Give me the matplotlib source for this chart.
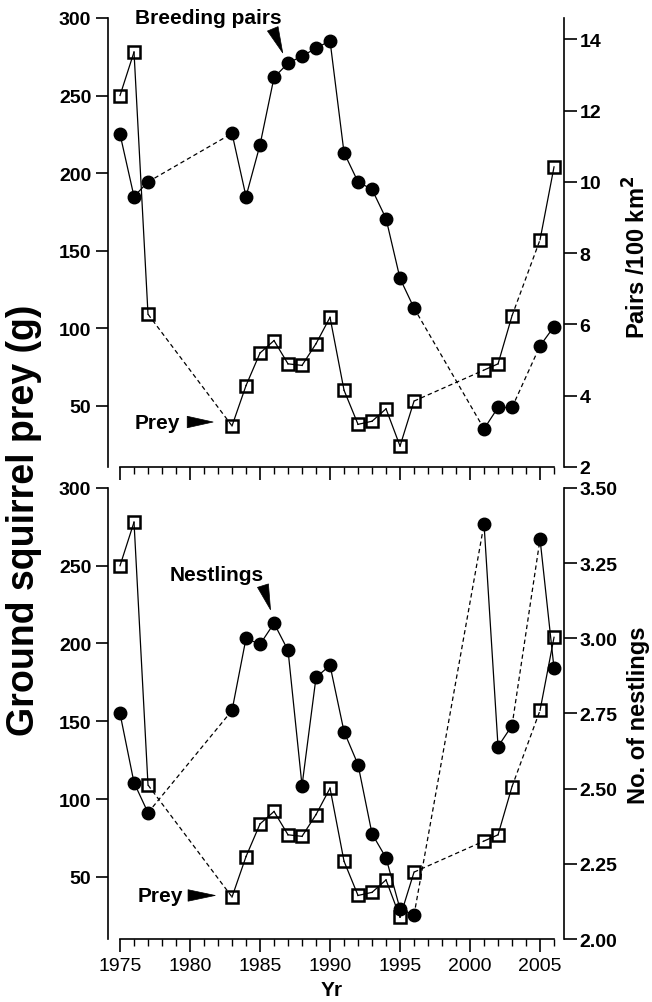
import matplotlib.pyplot as plt
from matplotlib.ticker import MultipleLocator, FormatStrFormatter

plt.rcParams["font.family"] = ["Liberation Sans", "DejaVu Sans"]

# -----------------------------
# Data
# -----------------------------
years = [1975, 1976, 1977, 1983, 1984, 1985, 1986, 1987, 1988, 1989, 1990,
         1991, 1992, 1993, 1994, 1995, 1996, 2001, 2002, 2003, 2005, 2006]

prey_g = [250, 278, 109, 37, 63, 84, 92, 77, 76, 90, 107,
          60, 38, 40, 48, 24, 53, 73, 77, 108, 157, 204]

pairs_per_100km2 = [11.34, 9.59, 10.0, 11.36, 9.59, 11.04, 12.93, 13.33, 13.53, 13.75, 13.96,
                    10.82, 10.0, 9.79, 8.97, 7.29, 6.46, 3.07, 3.67, 3.67, 5.40, 5.94]

nestlings = [2.75, 2.52, 2.42, 2.76, 3.00, 2.98, 3.05, 2.96, 2.51, 2.87, 2.91,
             2.69, 2.58, 2.35, 2.27, 2.10, 2.08, 3.38, 2.64, 2.71, 3.33, 2.90]

prey_ticks = [50, 100, 150, 200, 250, 300]
pairs_ticks = [2, 4, 6, 8, 10, 12, 14]
nestling_ticks = [2.00, 2.25, 2.50, 2.75, 3.00, 3.25, 3.50]

FS_TICK = 14
FS_NOTE = 15
LW = 0.9
DASH = (0, (3.5, 2.5))


def connect(ax, xs, ys):
    # solid line between consecutive years, dashed across missing years
    for i in range(len(xs) - 1):
        ls = "-" if xs[i + 1] - xs[i] == 1 else DASH
        ax.plot(xs[i:i + 2], ys[i:i + 2], color="black", lw=LW, linestyle=ls, zorder=2)


def style_panel(ax, ax2, ylim_left, ylim_right, right_ticks, show_xlabels):
    ax.set_xlim(1974.14, 2006.71)
    ax.set_ylim(*ylim_left)
    ax2.set_ylim(*ylim_right)

    for s in ["top", "right"]:
        ax.spines[s].set_visible(False)
    for s in ["top", "bottom", "left"]:
        ax2.spines[s].set_visible(False)
    ax.spines["bottom"].set_bounds(1975, 2006)
    for sp in [ax.spines["left"], ax.spines["bottom"], ax2.spines["right"]]:
        sp.set_linewidth(1.2)

    ax.set_yticks(prey_ticks)
    ax2.set_yticks(right_ticks)
    ax.xaxis.set_major_locator(MultipleLocator(5))
    ax.xaxis.set_minor_locator(MultipleLocator(1))

    ax.tick_params(axis="y", direction="out", length=9, width=1.2, pad=3, labelsize=FS_TICK)
    ax2.tick_params(axis="y", direction="out", length=9, width=1.2, pad=2, labelsize=FS_TICK)
    ax.tick_params(axis="x", which="major", direction="out", length=9, width=1.2,
                   pad=4, labelsize=FS_TICK, labelbottom=show_xlabels)
    ax.tick_params(axis="x", which="minor", direction="out", length=5, width=1.0)
    for lab in ax.get_yticklabels() + ax2.get_yticklabels():
        lab.set_fontweight("bold")


def draw_series(ax, ax2, right_values):
    connect(ax, years, prey_g)
    ax.plot(years, prey_g, linestyle="none", marker="s", ms=8, mfc="none",
            mec="black", mew=1.8, zorder=3)
    connect(ax2, years, right_values)
    ax2.plot(years, right_values, linestyle="none", marker="o", ms=9,
             color="black", zorder=3)


def pointer(ax, tail, head, width):
    ax.annotate("", xy=head, xytext=tail,
                arrowprops=dict(arrowstyle="wedge,tail_width=%s" % width, fc="black",
                                ec="black", lw=0.5, shrinkA=0, shrinkB=0,
                                mutation_scale=15),
                annotation_clip=False)


fig = plt.figure(figsize=(6.52, 10.03), dpi=100)

# -----------------------------
# Top panel: breeding pairs
# -----------------------------
ax_top = fig.add_axes([0.1656, 0.5334, 0.6994, 0.4477])
ax_top2 = ax_top.twinx()
draw_series(ax_top, ax_top2, pairs_per_100km2)
style_panel(ax_top, ax_top2, (10.5, 300), (2, 14.6), pairs_ticks, False)

ax_top.text(1976.07, 300, "Breeding pairs", fontsize=FS_NOTE, fontweight="bold",
            ha="left", va="center", clip_on=False)
pointer(ax_top, (1985.91, 293), (1986.62, 277.5), 0.55)
ax_top.text(1976.07, 39.5, "Prey", fontsize=FS_NOTE, fontweight="bold",
            ha="left", va="center")
pointer(ax_top, (1979.8, 39.5), (1981.65, 39.5), 0.55)

# -----------------------------
# Bottom panel: nestlings
# -----------------------------
ax_bot = fig.add_axes([0.1656, 0.0628, 0.6994, 0.4497])
ax_bot2 = ax_bot.twinx()
draw_series(ax_bot, ax_bot2, nestlings)
style_panel(ax_bot, ax_bot2, (10, 300), (2.0, 3.5), nestling_ticks, True)
ax_bot2.yaxis.set_major_formatter(FormatStrFormatter("%.2f"))

ax_bot.text(1978.57, 244.4, "Nestlings", fontsize=FS_NOTE, fontweight="bold",
            ha="left", va="center")
pointer(ax_bot, (1985.21, 237.2), (1985.75, 221.7), 0.55)
ax_bot.text(1976.29, 38, "Prey", fontsize=FS_NOTE, fontweight="bold",
            ha="left", va="center")
pointer(ax_bot, (1979.86, 38), (1981.8, 38), 0.55)

# -----------------------------
# Axis titles
# -----------------------------
fig.text(0.037, 0.481, "Ground squirrel prey (g)", rotation=90, fontsize=27,
         fontweight="bold", ha="center", va="center")
fig.text(0.977, 0.743, "Pairs /100 km$^\\mathbf{2}$", rotation=90, fontsize=17,
         fontweight="bold", ha="center", va="center")
fig.text(0.980, 0.287, "No. of nestlings", rotation=90, fontsize=17,
         fontweight="bold", ha="center", va="center")
fig.text(0.508, 0.012, "Yr", fontsize=15, fontweight="bold", ha="center", va="center")

fig.savefig("out.png", dpi=100)
